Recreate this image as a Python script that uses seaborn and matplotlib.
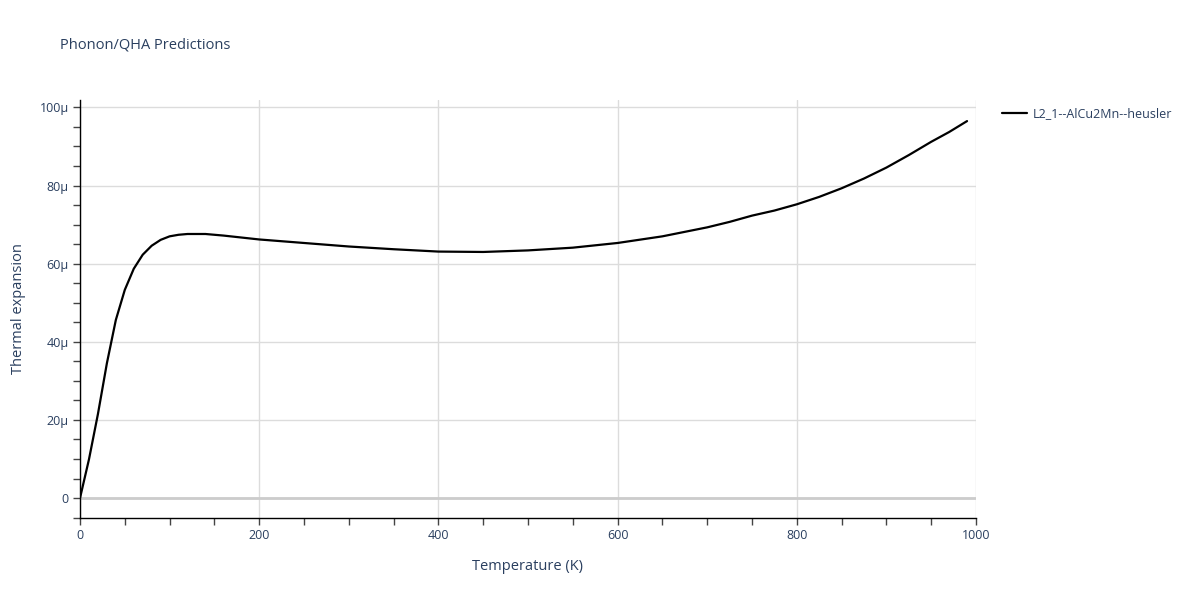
import pandas as pd
import numpy as np
import seaborn as sns
import matplotlib.pyplot as plt
import matplotlib.ticker as mticker

# Values (temperature in K, thermal expansion in units of 1e-6)
temperature = [0, 10, 20, 30, 40, 50, 60, 70, 80, 90, 100, 110, 120, 130, 140,
               160, 180, 200, 250, 300, 350, 400, 450, 500, 550, 600, 650,
               700, 725, 750, 775, 800, 825, 850, 875, 900, 925, 950, 970, 990]
expansion_micro = [0, 9.9, 21.5, 34.5, 45.6, 53.3, 58.7, 62.3, 64.6, 66.1, 67.0,
                   67.4, 67.6, 67.6, 67.6, 67.2, 66.7, 66.2, 65.3, 64.4, 63.7,
                   63.1, 63.0, 63.4, 64.1, 65.3, 67.0, 69.3, 70.7, 72.3, 73.6,
                   75.2, 77.1, 79.3, 81.8, 84.6, 87.8, 91.2, 93.7, 96.5]
series_name = 'L2_1--AlCu2Mn--heusler'
title = 'Phonon/QHA Predictions'
xlabel = 'Temperature (K)'
ylabel = 'Thermal expansion'

text_color = '#2a3f5f'

sns.set_style('white')
plt.rcParams['font.family'] = ['Open Sans', 'DejaVu Sans']

df = pd.DataFrame({
    'T': temperature,
    'alpha': np.array(expansion_micro) * 1e-6,
    'name': series_name,
})

fig = plt.figure(figsize=(12, 6), dpi=100)
ax = fig.add_axes([80 / 1200, 82 / 600, 896 / 1200, 418 / 600])

sns.lineplot(data=df, x='T', y='alpha', color='black', linewidth=1.6,
             ax=ax, legend=False, zorder=3)

ax.set_xlim(0, 1000)
ax.set_ylim(-5.1e-6, 101.9e-6)

ax.xaxis.set_major_locator(mticker.MultipleLocator(200))
ax.xaxis.set_minor_locator(mticker.MultipleLocator(50))
ax.yaxis.set_major_locator(mticker.MultipleLocator(20e-6))
ax.yaxis.set_minor_locator(mticker.MultipleLocator(5e-6))


def micro_fmt(v, pos):
    n = round(v * 1e6)
    return '0' if n == 0 else f'{n}μ'


ax.yaxis.set_major_formatter(mticker.FuncFormatter(micro_fmt))

ax.grid(True, which='major', color='#dcdcdc', linewidth=1, zorder=0)
ax.axhline(0, color='#cccccc', linewidth=2, zorder=1)

for side in ['top', 'right']:
    ax.spines[side].set_visible(False)
for side in ['left', 'bottom']:
    ax.spines[side].set_color('black')
    ax.spines[side].set_linewidth(1)

ax.tick_params(which='both', direction='out', length=5, width=1, color='#444444',
               left=True, bottom=True)
ax.tick_params(which='major', labelsize=9, labelcolor=text_color, pad=3)

ax.set_xlabel(xlabel, fontsize=10.5, color=text_color, labelpad=12)
ax.set_ylabel(ylabel, fontsize=10.5, color=text_color, labelpad=10)

fig.text(60 / 1200, 1 - 45 / 600, title, fontsize=10.5, color=text_color,
         va='center', ha='left')

handle = plt.Line2D([], [], color='black', linewidth=1.6)
fig.legend([handle], [series_name], loc='center left',
           bbox_to_anchor=(991 / 1200, 1 - 114 / 600), frameon=False,
           handlelength=2.0, handletextpad=0.45, fontsize=9,
           labelcolor=text_color)

fig.savefig('out.png', dpi=100)
